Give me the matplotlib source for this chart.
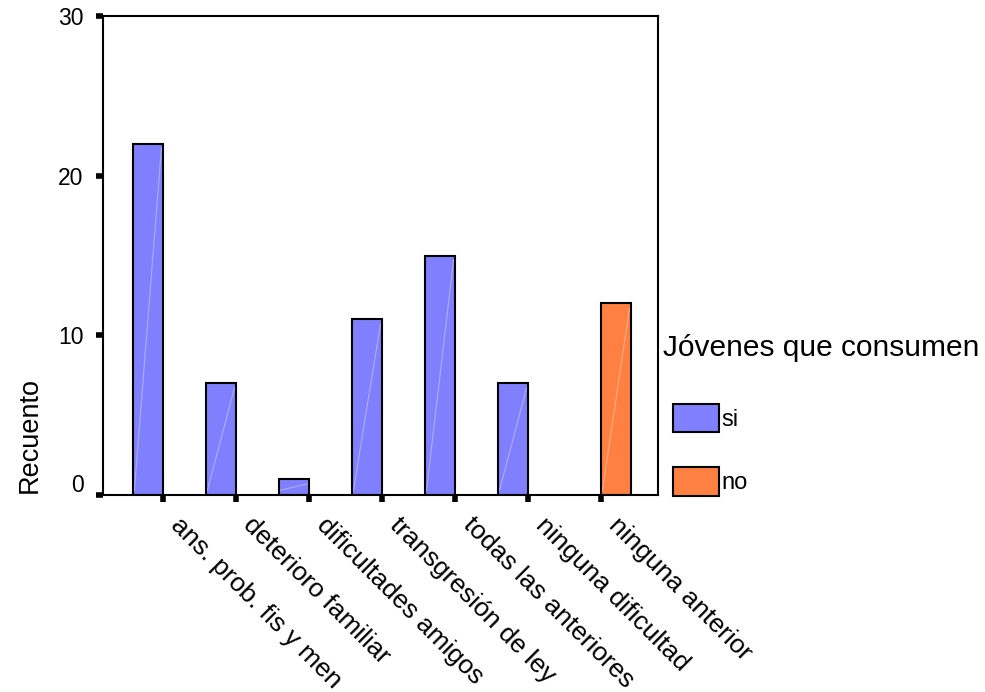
import numpy as np
import matplotlib
matplotlib.use('Agg')
import matplotlib.pyplot as plt
import matplotlib.transforms as mtransforms
from matplotlib.patches import Patch

plt.rcParams['font.family'] = ['Liberation Sans', 'DejaVu Sans']

# Categories and counts per group
lstCat = ['ans. prob. fis y men', 'deterioro familiar', 'dificultades amigos',
          'transgresión de ley', 'todas las anteriores', 'ninguna dificultad',
          'ninguna anterior']
vecSi = np.array([22, 7, 1, 11, 15, 7, 0])
vecNo = np.array([0, 0, 0, 0, 0, 0, 12])
lstYtck = [0, 10, 20, 30]
strLgdTtl = 'Jóvenes que consumen'
lstLgdLbl = ['si', 'no']

clrSi = '#8080FF'
clrNo = '#FF8040'
varWdt = 0.41

fgr01 = plt.figure(figsize=(9.85, 6.92), dpi=100)
axs01 = fgr01.add_axes([103 / 985, 1 - 495 / 692, 555 / 985, 479 / 692])

vecX = np.arange(len(lstCat))


def plot_bars(vecPos, vecVal, varW, strClr):
    # Only draw non-empty bars; each gets the faint diagonal highlight
    lgcKeep = vecVal > 0
    axs01.bar(vecPos[lgcKeep], vecVal[lgcKeep], width=varW, align='edge',
              color=strClr, edgecolor='black', linewidth=1.5, zorder=2)
    for varPos, varVal in zip(vecPos[lgcKeep], vecVal[lgcKeep]):
        varX0 = min(varPos, varPos + varW)
        varX1 = max(varPos, varPos + varW)
        axs01.plot([varX0 + 0.02, varX1 - 0.02], [0.3, varVal - 0.3],
                   color='white', alpha=0.35, linewidth=0.8, zorder=3)


plot_bars(vecX, vecSi, -varWdt, clrSi)
plot_bars(vecX, vecNo, varWdt, clrNo)

axs01.set_xlim(-0.82, 6.78)
axs01.set_ylim(0, 30)

for strSpn in ['top', 'right', 'bottom', 'left']:
    axs01.spines[strSpn].set_linewidth(1.5)
    axs01.spines[strSpn].set_zorder(4)

axs01.set_yticks(lstYtck)
axs01.set_yticklabels([str(v) for v in lstYtck])
axs01.set_xticks(vecX)
axs01.set_xticklabels(lstCat, rotation=-45, ha='left', va='top',
                      rotation_mode='anchor')
axs01.tick_params(axis='y', direction='out', length=5, width=4, pad=9,
                  labelsize=16.5)
axs01.tick_params(axis='x', direction='out', length=5, width=4, pad=8,
                  labelsize=19)

# The zero label sits a little above its tick
objOff = mtransforms.ScaledTranslation(0, 12 / 100, fgr01.dpi_scale_trans)
lblZero = axs01.get_yticklabels()[0]
lblZero.set_transform(lblZero.get_transform() + objOff)

# Category labels start just right of their tick
objOffX = mtransforms.ScaledTranslation(20 / 100, 0, fgr01.dpi_scale_trans)
for lblTmp in axs01.get_xticklabels():
    lblTmp.set_transform(lblTmp.get_transform() + objOffX)

fgr01.text(30 / 985, 1 - 435 / 692, 'Recuento', rotation=90, fontsize=19.5,
           ha='center', va='center')

# Legend: title on its own, colour boxes slightly indented below it
fgr01.text(663 / 985, 1 - 356 / 692, strLgdTtl, fontsize=21.5,
           ha='left', va='baseline')
lstHdl = [Patch(facecolor=clrSi, edgecolor='black', linewidth=1.5),
          Patch(facecolor=clrNo, edgecolor='black', linewidth=1.5)]
objLgd = axs01.legend(lstHdl, lstLgdLbl,
                      loc='upper left', bbox_to_anchor=(673 / 985, 1 - 404 / 692),
                      bbox_transform=fgr01.transFigure,
                      frameon=False, fontsize=17,
                      handlelength=1.95, handleheight=1.48,
                      labelspacing=1.48, handletextpad=0.1, borderpad=0,
                      borderaxespad=0)

fgr01.savefig('out.png', dpi=100, facecolor='w')
plt.close(fgr01)
